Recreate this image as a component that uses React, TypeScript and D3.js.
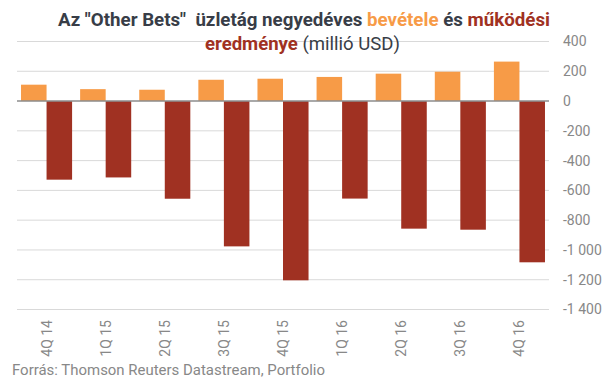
import React from "react";
import * as d3 from "d3";

const categories = ["4Q 14", "1Q 15", "2Q 15", "3Q 15", "4Q 15", "1Q 16", "2Q 16", "3Q 16", "4Q 16"];
const revenue = [110, 80, 76, 143, 150, 162, 184, 197, 265];
const operatingResult = [-528, -513, -656, -976, -1204, -655, -857, -864, -1083];
const yTicks = [400, 200, 0, -200, -400, -600, -800, -1000, -1200, -1400];

const W = 607;
const H = 381;
const ORANGE = "#F79B47";
const RED = "#A03122";
const GRAY = "#888888";
const TITLE = "#383D47";
const FONT = "Roboto, 'Liberation Sans', sans-serif";

const fmt = (v: number) => {
  const s = Math.abs(v).toString().replace(/\B(?=(\d{3})+(?!\d))/g, "\u00a0");
  return (v < 0 ? "-" : "") + s;
};

export default function App() {
  const x = d3.scaleBand<string>().domain(categories).range([17, 549]).paddingInner(0.136).paddingOuter(0.068);
  const y = d3.scaleLinear().domain([-1400, 400]).range([309.5, 41.5]);
  const bw = x.bandwidth() / 2;
  const y0 = y(0);

  return (
    <svg width={W} height={H} style={{ position: "absolute", left: 0, top: 0, background: "#fff" }} fontFamily={FONT}>
      <rect x={0} y={0} width={W} height={H} fill="#fff" />
      {yTicks.filter((t) => t !== 0).map((t) => (
        <line key={t} x1={17} x2={549} y1={y(t)} y2={y(t)} stroke="#D9D9D9" strokeWidth={1} />
      ))}
      {yTicks.map((t) => (
        <text key={"l" + t} x={563} y={y(t)} dy="0.35em" fontSize={14} fill={GRAY}>
          {fmt(t)}
        </text>
      ))}
      {categories.map((c, i) => {
        const x0 = x(c)!;
        const rv = revenue[i];
        const op = operatingResult[i];
        return (
          <g key={c}>
            <rect x={x0} y={y(rv)} width={bw} height={y0 - y(rv)} fill={ORANGE} />
            <rect x={x0 + bw} y={y0} width={bw} height={y(op) - y0} fill={RED} />
          </g>
        );
      })}
      <line x1={17} x2={549} y1={y0} y2={y0} stroke="#8C8C8C" strokeWidth={1.5} />
      {categories.map((c) => {
        const cx = x(c)! + x.bandwidth() / 2;
        return (
          <text key={"x" + c} transform={`translate(${cx + 5},320) rotate(-90)`} textAnchor="end" fontSize={14} fill={GRAY}>
            {c}
          </text>
        );
      })}
      <text x={58} y={26} fontSize={17.5} fontWeight="bold" fill={TITLE} textLength={492} lengthAdjust="spacingAndGlyphs" style={{ whiteSpace: "pre" }}>
        <tspan>{'Az "Other Bets"  üzletág negyedéves '}</tspan>
        <tspan fill={ORANGE}>bevétele</tspan>
        <tspan>{" és "}</tspan>
        <tspan fill={RED}>működési</tspan>
      </text>
      <text x={205} y={50} fontSize={17.5} fill={TITLE} textLength={195} lengthAdjust="spacingAndGlyphs" style={{ whiteSpace: "pre" }}>
        <tspan fontWeight="bold" fill={RED}>eredménye</tspan>
        <tspan>{" (millió USD)"}</tspan>
      </text>
      <text x={12} y={375} fontSize={15} fill={GRAY} textLength={313} lengthAdjust="spacingAndGlyphs">
        Forrás: Thomson Reuters Datastream, Portfolio
      </text>
    </svg>
  );
}
